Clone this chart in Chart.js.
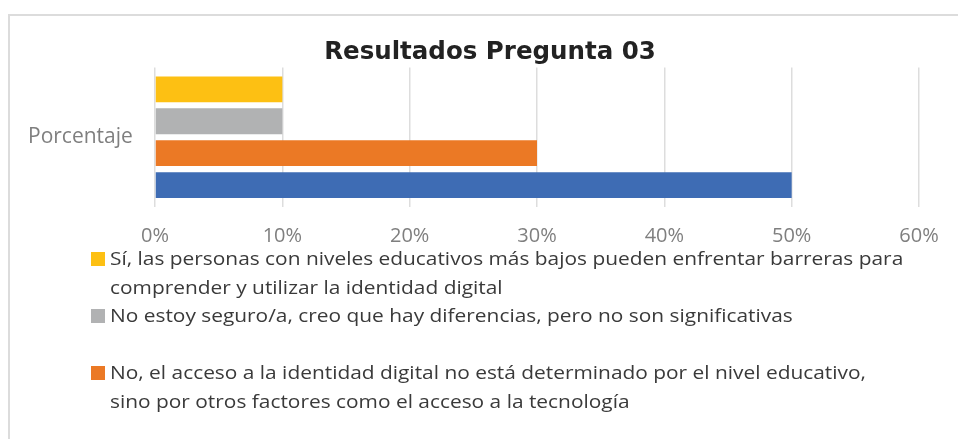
<!DOCTYPE html>
<html lang="es">
<head>
<meta charset="utf-8">
<title>Resultados Pregunta 03</title>
<script src="https://cdn.jsdelivr.net/npm/chart.js@4.4.1/dist/chart.umd.min.js"></script>
<style>
    html, body { margin: 0; padding: 0; background: #fff; }
    body { width: 958px; height: 439px; overflow: hidden; position: relative; }
    .frame {
        position: absolute; left: 8px; top: 14px;
        width: 1000px; height: 500px;
        border: 2px solid #dcdcdc; box-sizing: border-box;
    }
    .chart-box { position: absolute; left: 0; top: 0; width: 958px; height: 260px; }
    #legend {
        position: absolute; left: 91px; top: 244px;
        margin: 0; padding: 0; list-style: none;
        font-family: 'Open Sans', sans-serif; font-size: 18px; line-height: 28.5px;
        color: #3a3a3a;
    }
    #legend li { display: flex; align-items: flex-start; min-height: 57px; white-space: pre-line; }
    #legend .box { width: 14px; height: 14px; margin: 8px 5px 0 0; flex: none; }
    /* the original picture is a bit stretched sideways */
    #legend .text { display: inline-block; transform: scaleX(1.16); transform-origin: 0 0; }
</style>
</head>
<body>
<div class="frame"></div>
<div class="chart-box"><canvas id="resultsChart"></canvas></div>
<ul id="legend"></ul>

<script>
// Datos
const categories = ['Porcentaje'];
const seriesLabels = [
    'Sí, las personas con niveles educativos más bajos pueden enfrentar barreras para\ncomprender y utilizar la identidad digital',
    'No estoy seguro/a, creo que hay diferencias, pero no son significativas',
    'No, el acceso a la identidad digital no está determinado por el nivel educativo,\nsino por otros factores como el acceso a la tecnología',
    'Sí, el nivel educativo influye en el acceso y uso de la identidad digital'
];
const seriesValues = [10, 10, 30, 50];
const axisMax = 60;
const axisStep = 10;

const seriesColors = ['#fdc013', '#b1b2b3', '#eb7925', '#3e6cb4'];
// the original box cuts the legend after the third entry
const legendShown = 3;

// HTML legend so the long labels can wrap like the original
const htmlLegend = {
    id: 'htmlLegend',
    afterUpdate(chart) {
        const ul = document.getElementById('legend');
        ul.innerHTML = '';
        const items = chart.options.plugins.legend.labels.generateLabels(chart)
            .filter(item => item.datasetIndex < legendShown);
        items.forEach(item => {
            const li = document.createElement('li');
            const box = document.createElement('span');
            box.className = 'box';
            box.style.background = item.fillStyle;
            const text = document.createElement('span');
            text.className = 'text';
            text.textContent = item.text;
            li.appendChild(box);
            li.appendChild(text);
            ul.appendChild(li);
        });
    }
};

const ctx = document.getElementById('resultsChart');

const resultsChart = new Chart(ctx, {
    type: 'bar',
    data: {
        labels: categories,
        datasets: seriesLabels.map((label, i) => ({
            label: label,
            data: [seriesValues[i]],
            backgroundColor: seriesColors[i],
            borderWidth: 0,
            categoryPercentage: 0.914,
            barPercentage: 0.81
        }))
    },
    options: {
        indexAxis: 'y',
        responsive: true,
        maintainAspectRatio: false,
        animation: false,
        layout: {
            // left padding keeps the title centred where Excel put it
            padding: { left: 61, right: 39, top: 0, bottom: 12 }
        },
        plugins: {
            legend: { display: false },
            title: {
                display: true,
                text: 'Resultados Pregunta 03',
                color: '#222',
                font: { family: 'DejaVu Sans', size: 24.5, weight: 'bold', lineHeight: 1.2 },
                padding: { top: 38, bottom: 0 }
            },
            tooltip: {
                callbacks: {
                    label: function(context) {
                        return context.parsed.x + '%';
                    }
                }
            }
        },
        scales: {
            x: {
                min: 0,
                max: axisMax,
                grid: {
                    color: '#dddddd',
                    lineWidth: 1.5,
                    drawTicks: false
                },
                border: { display: false },
                ticks: {
                    stepSize: axisStep,
                    color: '#7f7f7f',
                    padding: 17,
                    font: { family: 'Open Sans', size: 20 },
                    callback: v => v + '%'
                },
                afterFit: scale => { scale.height = 41; }
            },
            y: {
                grid: { display: false, drawTicks: false },
                border: { display: false },
                ticks: {
                    // mirrored so the label is not clipped to the narrow axis box
                    mirror: true,
                    padding: -127,
                    color: '#7f7f7f',
                    font: { family: 'Open Sans', size: 21 }
                },
                afterFit: scale => { scale.width = 94; }
            }
        }
    },
    plugins: [htmlLegend]
});
</script>
</body>
</html>
